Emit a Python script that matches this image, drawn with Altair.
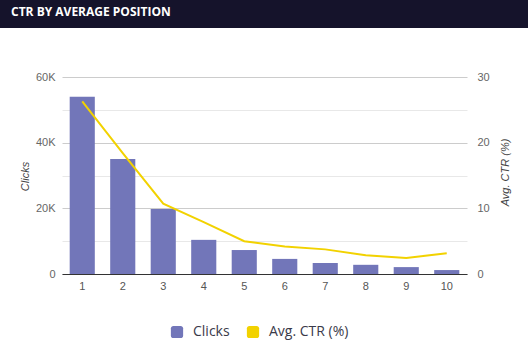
import altair as alt
import pandas as pd

positions = [1, 2, 3, 4, 5, 6, 7, 8, 9, 10]
clicks = [54000, 35000, 19800, 10400, 7300, 4600, 3350, 2800, 2100, 1200]
ctr = [26.3, 18.4, 10.7, 7.9, 5.0, 4.2, 3.75, 2.85, 2.45, 3.15]
series_names = ["Clicks", "Avg. CTR (%)"]
series_colors = ["#7276b9", "#f2d200"]
chart_title = "CTR BY AVERAGE POSITION"

df = pd.DataFrame({"position": positions, "clicks": clicks, "ctr": ctr})

W, H = 405, 197
PAD_L, PAD_T = 62, 77

xenc = alt.X(
    "position:O",
    scale=alt.Scale(paddingInner=0.38, paddingOuter=0.19),
    axis=alt.Axis(
        title=None, labelAngle=0, ticks=False, grid=False,
        domainColor="#333333", domainWidth=1.2,
        labelFont="Liberation Sans", labelFontSize=11, labelColor="#555555",
        labelPadding=6,
    ),
)

rounded = ("M -0.6,-1 H 0.6 A 0.4 0.4 0 0 1 1,-0.6 V 0.6 A 0.4 0.4 0 0 1 0.6,1 "
           "H -0.6 A 0.4 0.4 0 0 1 -1,0.6 V -0.6 A 0.4 0.4 0 0 1 -0.6,-1 Z")

bars = alt.Chart(df).mark_bar().encode(
    x=xenc,
    y=alt.Y(
        "clicks:Q",
        scale=alt.Scale(domain=[0, 60000], nice=False),
        axis=alt.Axis(
            title="Clicks",
            values=[0, 10000, 20000, 30000, 40000, 50000, 60000],
            labelExpr="datum.value % 20000 == 0 ? (datum.value == 0 ? '0' : (datum.value/1000) + 'K') : ''",
            ticks=False, domain=False,
            gridColor={"condition": {"test": "datum.value % 20000 == 0", "value": "#cccccc"}, "value": "#e8e8e8"},
            labelFont="Liberation Sans", labelFontSize=11, labelColor="#666666",
            labelPadding=7,
            titleFont="Liberation Sans", titleFontSize=11, titleFontStyle="italic",
            titleFontWeight="normal", titleColor="#444444",
            titleAngle=270, titleX=-37, titleY=99, titleAlign="center", titleBaseline="middle",
        ),
    ),
    color=alt.Color(
        "s:N",
        scale=alt.Scale(domain=series_names, range=series_colors),
        legend=alt.Legend(
            title=None, orient="none", direction="horizontal",
            legendX=108, legendY=248,
            symbolType=rounded, symbolSize=150, symbolStrokeWidth=0,
            labelFont="Open Sans", labelFontSize=14, labelColor="#3a3a4a",
            labelOffset=9, columnPadding=16,
        ),
    ),
).transform_calculate(s="'Clicks'")

line = alt.Chart(df).mark_line(strokeWidth=2, color=series_colors[1]).encode(
    x=xenc,
    y=alt.Y(
        "ctr:Q",
        scale=alt.Scale(domain=[0, 30], nice=False),
        axis=alt.Axis(
            title="Avg. CTR (%)", orient="right",
            values=[0, 10, 20, 30],
            ticks=False, domain=False, grid=False,
            labelFont="Liberation Sans", labelFontSize=11, labelColor="#666666",
            labelPadding=10,
            titleFont="Liberation Sans", titleFontSize=11, titleFontStyle="italic",
            titleFontWeight="normal", titleColor="#444444",
            titleAngle=270, titleX=38, titleY=95, titleAlign="center", titleBaseline="middle",
        ),
    ),
)

header = alt.Chart(pd.DataFrame({"t": [chart_title]})).mark_rect(color="#15132b").encode(
    x=alt.value(-PAD_L), x2=alt.value(528 - PAD_L),
    y=alt.value(-PAD_T), y2=alt.value(28 - PAD_T),
)
title = alt.Chart(pd.DataFrame({"t": [chart_title]})).mark_text(
    color="white", font="Open Sans", fontWeight="bold", fontSize=12,
    align="left", baseline="middle",
).encode(
    text="t:N", x=alt.value(11 - PAD_L), y=alt.value(12 - PAD_T),
)

chart = alt.layer(bars, line, header, title).resolve_scale(y="independent").properties(
    width=W, height=H,
    autosize=alt.AutoSizeParams(type="none"),
    padding={"left": PAD_L, "top": PAD_T, "right": 528 - PAD_L - W, "bottom": 351 - PAD_T - H},
    background="white",
).configure_view(stroke=None)

chart.save("out.html", embed_options={"renderer": "svg", "actions": False})
